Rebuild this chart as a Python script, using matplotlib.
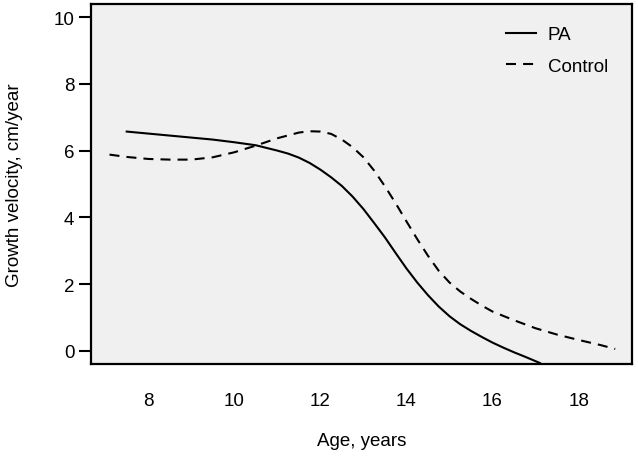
import matplotlib
matplotlib.use("Agg")
import matplotlib.pyplot as plt

pa_age = [7.5, 8.0, 8.5, 9.0, 9.5, 10.0, 10.5, 11.0, 11.25, 11.5, 11.75, 12.0,
          12.25, 12.5, 12.75, 13.0, 13.25, 13.5, 13.75, 14.0, 14.25, 14.5,
          14.75, 15.0, 15.25, 15.5, 15.75, 16.0, 16.25, 16.5, 16.75, 17.1]
pa_vel = [6.57, 6.51, 6.45, 6.39, 6.33, 6.25, 6.16, 6.0, 5.91, 5.79, 5.63, 5.43,
          5.2, 4.94, 4.62, 4.25, 3.83, 3.4, 2.93, 2.47, 2.05, 1.67,
          1.33, 1.04, 0.8, 0.6, 0.42, 0.25, 0.1, -0.04, -0.17, -0.36]

ctrl_age = [7.1, 7.5, 8.0, 8.5, 9.0, 9.5, 10.0, 10.5, 11.0, 11.5, 11.75, 12.0,
            12.25, 12.5, 12.75, 13.0, 13.25, 13.5, 13.75, 14.0, 14.25, 14.5,
            14.75, 15.0, 15.25, 15.5, 15.75, 16.0, 16.5, 17.0, 17.5, 18.0,
            18.5, 18.85]
ctrl_vel = [5.88, 5.81, 5.75, 5.73, 5.73, 5.8, 5.95, 6.15, 6.37, 6.54, 6.58, 6.57,
            6.5, 6.33, 6.1, 5.8, 5.4, 4.93, 4.42, 3.88, 3.35, 2.85,
            2.4, 2.05, 1.78, 1.56, 1.36, 1.18, 0.92, 0.68, 0.49, 0.33,
            0.18, 0.06]

x_ticks = [8, 10, 12, 14, 16, 18]
y_ticks = [0, 2, 4, 6, 8, 10]

plt.rcParams['font.family'] = ['Liberation Sans', 'DejaVu Sans']
fs = 13.5

fig = plt.figure(figsize=(6.38, 4.60), dpi=100)
ax = fig.add_axes([91 / 638, 95 / 460, 541 / 638, 360 / 460])
ax.set_facecolor('#f0f0f0')

ax.plot(pa_age, pa_vel, color='black', lw=1.5, label='PA',
        solid_joinstyle='round')
ax.plot(ctrl_age, ctrl_vel, color='black', lw=1.5, dashes=(4.8, 3.4),
        label='Control', dash_joinstyle='round')

ax.set_xlim(6.67, 19.24)
ax.set_ylim(-0.39, 10.39)
ax.set_xticks(x_ticks)
ax.set_yticks(y_ticks)
ax.tick_params(axis='x', length=0, pad=20, labelsize=fs)
ax.tick_params(axis='y', length=9, width=1.5, pad=3, labelsize=fs)
for sp in ax.spines.values():
    sp.set_linewidth(1.6)

ax.set_xlabel('Age, years', fontsize=fs, labelpad=17)
ax.set_ylabel('Growth velocity, cm/year', fontsize=fs, labelpad=22)

ax.legend(loc='upper left', bbox_to_anchor=(0.735, 0.985), frameon=False,
          fontsize=fs, handlelength=1.65, handletextpad=0.6, labelspacing=0.75)

fig.savefig('out.png', dpi=100)
